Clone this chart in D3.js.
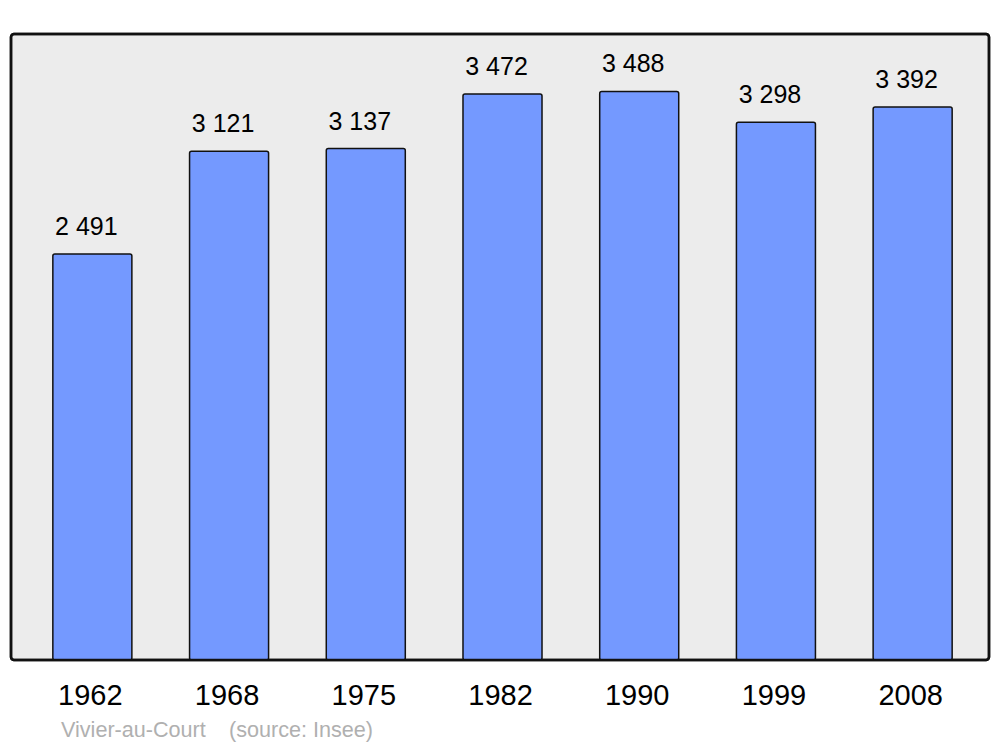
<!DOCTYPE html>
<html><head><meta charset="utf-8">
<script src="https://cdn.jsdelivr.net/npm/d3@7"></script>
<style>body{margin:0;background:#fff}svg{display:block}</style>
</head><body>
<script>
const years = ["1962","1968","1975","1982","1990","1999","2008"];
const population = [2491,3121,3137,3472,3488,3298,3392];
const labels = ["2 491","3 121","3 137","3 472","3 488","3 298","3 392"];
const caption = ["Vivier-au-Court", "(source: Insee)"];

const W=1000,H=747;
const svg=d3.select("body").append("svg").attr("width",W).attr("height",H);
const font="'Liberation Sans', Arial, sans-serif";
svg.append("rect").attr("x",11).attr("y",34).attr("width",978).attr("height",626)
  .attr("rx",3).attr("fill","#ececec").attr("stroke","#111").attr("stroke-width",2.5);

const x=d3.scaleBand().domain(years).range([24,981]).paddingInner(0.422).paddingOuter(0.211);
const y=d3.scaleLinear().domain([0,3840]).range([660,34]);

svg.selectAll("rect.bar").data(years).join("rect").attr("class","bar")
  .attr("x",d=>x(d)).attr("width",x.bandwidth())
  .attr("y",(d,i)=>y(population[i])).attr("height",(d,i)=>y(0)-y(population[i]))
  .attr("rx",2).attr("fill","#7499ff").attr("stroke","#111").attr("stroke-width",1.5);

svg.append("rect").attr("x",11).attr("y",34).attr("width",978).attr("height",626)
  .attr("rx",3).attr("fill","none").attr("stroke","#111").attr("stroke-width",2.5);

svg.selectAll("text.val").data(years).join("text").attr("class","val")
  .attr("x",d=>x(d)+x.bandwidth()/2).attr("dx",-6)
  .attr("y",(d,i)=>y(population[i])-19)
  .attr("text-anchor","middle").attr("font-family",font).attr("font-size",25).attr("fill","#000")
  .text((d,i)=>labels[i]);

const xa=svg.append("g").attr("transform","translate(0,660)").call(d3.axisBottom(x).tickSize(0).tickPadding(0));
xa.select(".domain").remove();
xa.selectAll("text").attr("y",45).attr("dy",null).attr("dx",-2).attr("font-family",font).attr("font-size",29).attr("fill","#000");

svg.append("text").attr("x",61).attr("y",737).attr("font-family",font).attr("font-size",21.6).attr("fill","#b0b0b0")
  .text(caption[0]);
svg.append("text").attr("x",229).attr("y",737).attr("font-family",font).attr("font-size",21.6).attr("fill","#b0b0b0")
  .text(caption[1]);
</script>
</body></html>
